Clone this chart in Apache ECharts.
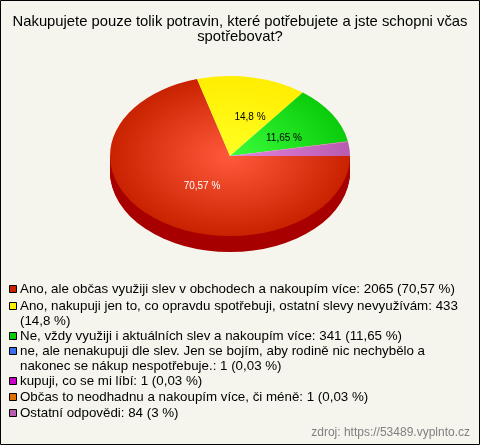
<!DOCTYPE html>
<html><head><meta charset="utf-8">
<style>html,body{margin:0;padding:0;background:#F5F5EE}#c{width:480px;height:445px}</style>
<script src="https://cdn.jsdelivr.net/npm/echarts@6/dist/echarts.min.js"></script>
</head><body><div id="c"></div>
<script>
const titleText = "Nakupujete pouze tolik potravin, které potřebujete a jste schopni včas\nspotřebovat?";
const sourceText = "zdroj: https://53489.vyplnto.cz";
const categories = [
  "Ano, ale občas využiji slev v obchodech a nakoupím více",
  "Ano, nakupuji jen to, co opravdu spotřebuji, ostatní slevy nevyužívám",
  "Ne, vždy využiji i aktuálních slev a nakoupím více",
  "ne, ale nenakupuji dle slev. Jen se bojím, aby rodině nic nechybělo a nakonec se nákup nespotřebuje.",
  "kupuji, co se mi líbí",
  "Občas to neodhadnu a nakoupím více, či méně",
  "Ostatní odpovědi"
];
const values = [2065, 433, 341, 1, 1, 1, 84];
const percents = ["70,57 %", "14,8 %", "11,65 %", "0,03 %", "0,03 %", "0,03 %", "3 %"];
const legendColors = ["#C82200", "#FFEE00", "#0ACC0A", "#3C6EF0", "#CC00CC", "#E07000", "#B85CB0"];
const centerColors = ["#FF5A3C", "#FFFF22", "#3CFF3C", "#6A9AFF", "#FF30FF", "#FFA030", "#E484E0"];
const labelColors = ["#fff", "#000", "#000"];

// layout
const CX = 230, CY = 156, RX = 120, RY = 80, DEPTH = 16;
const labelOffset = [[-28, 30], [20, -39], [54, -18]];
const total = values.reduce((a, b) => a + b, 0);
const legendBreak = { 1: "Ano, nakupuji jen to, co opravdu spotřebuji, ostatní slevy nevyužívám: 433\n(14,8 %)",
  3: "ne, ale nenakupuji dle slev. Jen se bojím, aby rodině nic nechybělo a\nnakonec se nákup nespotřebuje.: 1 (0,03 %)" };
const legendLines = categories.map((c, i) => legendBreak[i] || (c + ": " + values[i] + " (" + percents[i] + ")"));

function startOf(i) { let s = 0; for (let k = 0; k < i; k++) s += values[k]; return s / total * Math.PI * 2; }

const series = categories.map((name, i) => ({
  type: "custom", name, coordinateSystem: "none", silent: true, animation: false,
  itemStyle: { color: legendColors[i] },
  data: [[values[i]]],
  renderItem(params, api) {
    const a0 = startOf(i), a1 = a0 + api.value(0) / total * Math.PI * 2;
    const grad = { type: "radial", x: 0, y: 0, r: RX, global: true,
      colorStops: [{ offset: 0, color: centerColors[i] }, { offset: 1, color: legendColors[i] }] };
    const kids = [];
    const w0 = Math.max(a0, 0), w1 = Math.min(a1, Math.PI);
    if (w1 > w0) for (let d = DEPTH; d >= 1; d--) kids.push({
      type: "group", x: CX, y: CY + d, scaleY: RY / RX,
      children: [{ type: "sector", shape: { cx: 0, cy: 0, r: RX, r0: 0, startAngle: w0, endAngle: w1, clockwise: true },
        style: { fill: "#A80000" } }]
    });
    kids.push({ type: "group", x: CX, y: CY, scaleY: RY / RX,
      children: [{ type: "sector", shape: { cx: 0, cy: 0, r: RX, r0: 0, startAngle: a0, endAngle: a1, clockwise: true },
        style: { fill: grad } }] });
    return { type: "group", children: kids };
  }
}));
// labels drawn last so slices never cover them
series.push({
  type: "custom", name: "labels", coordinateSystem: "none", silent: true, animation: false,
  data: [[0]],
  renderItem() {
    return { type: "group", children: labelOffset.map((o, i) => ({
      type: "text", x: CX + o[0], y: CY + o[1],
      style: { text: percents[i], fill: labelColors[i], font: "10px 'Liberation Sans', Arial", align: "center", verticalAlign: "middle" }
    })) };
  }
});

const legendY = [289, 306, 336, 351, 381, 397, 413];
const legendGfx = [];
legendLines.forEach((t, i) => {
  legendGfx.push({ type: "rect", shape: { x: 9.5, y: legendY[i] - 3.5, width: 7, height: 7 },
    style: { fill: legendColors[i], stroke: "#000", lineWidth: 1 } });
  legendGfx.push({ type: "text", x: 20, y: legendY[i] - 7,
    style: { text: t, fill: "#000", font: "13.33px 'Liberation Sans', Arial", lineHeight: 15, align: "left", verticalAlign: "top" } });
});

const chart = echarts.init(document.getElementById("c"), null, { renderer: "canvas" });
chart.setOption({
  backgroundColor: "#F5F5EE",
  animation: false,
  title: [
    { text: titleText, left: 235, top: 9, textAlign: "center",
      textStyle: { color: "#000", fontWeight: "normal", fontSize: 14.8, lineHeight: 15, fontFamily: "'Liberation Sans', Arial" } },
    { text: sourceText, right: 5, bottom: 1,
      textStyle: { color: "#808080", fontWeight: "normal", fontSize: 12, fontFamily: "'Liberation Sans', Arial" } }
  ],
  series,
  graphic: [
    { type: "rect", z: 100, shape: { x: 0.5, y: 0.5, width: 479, height: 444 }, style: { fill: "none", stroke: "#000", lineWidth: 1 } },
    ...legendGfx
  ]
});
</script></body></html>
